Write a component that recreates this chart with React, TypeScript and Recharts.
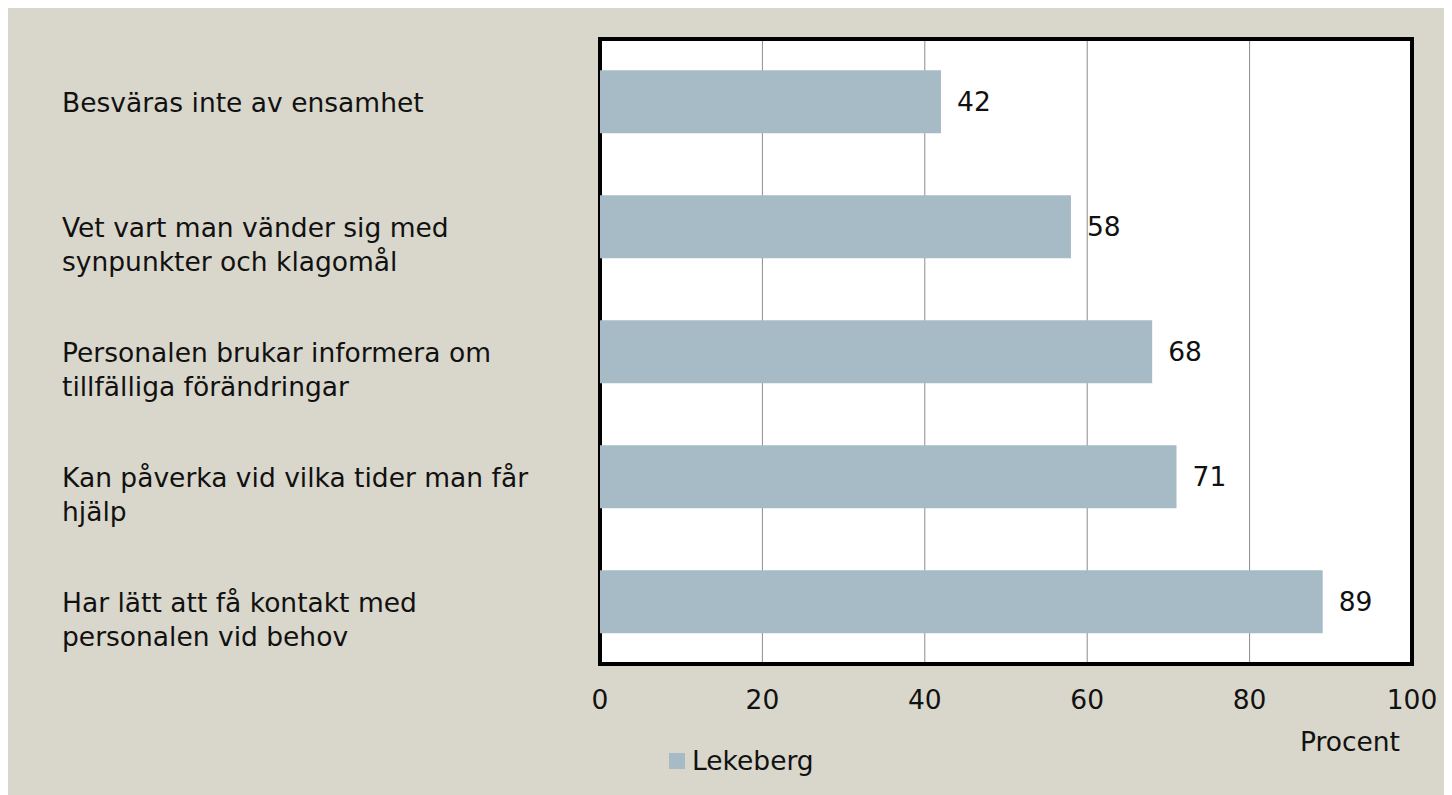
import React from 'react';
import { BarChart, Bar, XAxis, YAxis, CartesianGrid, ReferenceArea, LabelList, Legend, Label } from 'recharts';

const categories = [
  'Besväras inte av ensamhet',
  'Vet vart man vänder sig med synpunkter och klagomål',
  'Personalen brukar informera om tillfälliga förändringar',
  'Kan påverka vid vilka tider man får hjälp',
  'Har lätt att få kontakt med personalen vid behov',
];
const categoryLines: string[][] = [
  ['Besväras inte av ensamhet'],
  ['Vet vart man vänder sig med', 'synpunkter och klagomål'],
  ['Personalen brukar informera om', 'tillfälliga förändringar'],
  ['Kan påverka vid vilka tider man får', 'hjälp'],
  ['Har lätt att få kontakt med', 'personalen vid behov'],
];
const lekeberg = [42, 58, 68, 71, 89];
const xTicks = [0, 20, 40, 60, 80, 100];
const seriesName = 'Lekeberg';
const axisTitle = 'Procent';

const data = categories.map((c, i) => ({ name: c, lines: categoryLines[i], value: lekeberg[i] }));

const FONT = "'DejaVu Sans', sans-serif";
const FS = 26.5;
const BAR = '#a6bbc6';

const CategoryTick = (props: any) => {
  const { y, payload, index } = props;
  const lines = categoryLines[index] ?? [payload.value];
  return (
    <text x={54} y={y} textAnchor="start" fontFamily={FONT} fontSize={FS} fill="#111" dominantBaseline="central">
      {lines.map((l, i) => (
        <tspan key={i} x={54} dy={i === 0 ? 0 : 34}>{l}</tspan>
      ))}
    </text>
  );
};

const LegendContent = (props: any) => {
  const { payload } = props;
  return (
    <div style={{ display: 'flex', alignItems: 'center', fontFamily: FONT, fontSize: FS, color: '#111' }}>
      {(payload || []).map((p: any, i: number) => (
        <div key={i} style={{ display: 'flex', alignItems: 'center' }}>
          <span style={{ display: 'inline-block', width: 16, height: 16, background: BAR, marginRight: 7 }} />
          <span>{p.value}</span>
        </div>
      ))}
    </div>
  );
};

export default function App() {
  return (
    <div style={{ width: 1444, height: 787, background: '#d9d7cb', position: 'relative' }}>
      <BarChart
        width={1444}
        height={787}
        data={data}
        layout="vertical"
        margin={{ top: 31, right: 40, left: 0, bottom: 101 }}
        barCategoryGap="25%"
      >
        <CartesianGrid horizontal={false} stroke="#8c8c8c" fill="#ffffff" />
        <XAxis
          type="number"
          domain={[0, 100]}
          ticks={xTicks}
          axisLine={false}
          tickLine={false}
          tickMargin={20}
          height={30}
          tick={{ fontFamily: FONT, fontSize: FS, fill: '#111' }}
          interval={0}
        >
          <Label
            content={(p: any) => {
              const vb = p.viewBox;
              return (
                <text x={vb.x + vb.width - 12} y={733} textAnchor="end" dominantBaseline="central" fontFamily={FONT} fontSize={FS} fill="#111">
                  {axisTitle}
                </text>
              );
            }}
          />
        </XAxis>
        <YAxis type="category" dataKey="name" width={592} axisLine={false} tickLine={false} tick={<CategoryTick />} interval={0} />
        <Bar dataKey="value" name={seriesName} fill={BAR} isAnimationActive={false}>
          <LabelList dataKey="value" position="right" offset={16} fill="#111" fontFamily={FONT} fontSize={FS} />
        </Bar>
        <ReferenceArea x1={0} x2={100} fill="none" stroke="#000" strokeWidth={4} ifOverflow="visible" />
        <Legend
          layout="horizontal"
          verticalAlign="middle"
          align="center"
          content={<LegendContent />}
          wrapperStyle={{ position: 'absolute', left: 661, top: 737, width: 'auto' }}
        />
      </BarChart>
    </div>
  );
}
